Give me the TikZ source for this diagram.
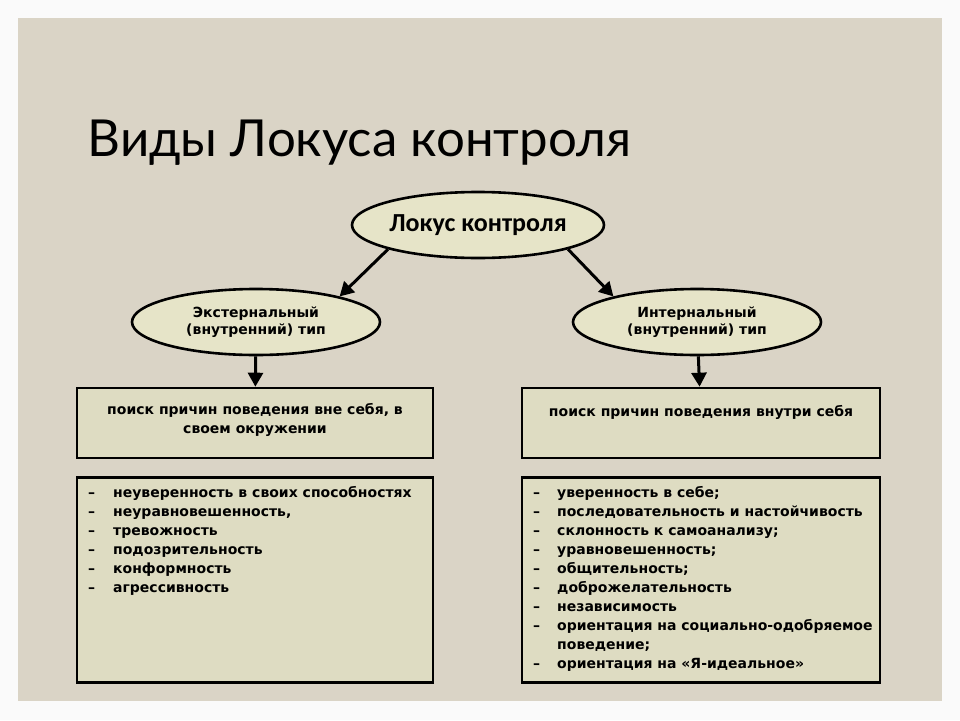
\documentclass[tikz,border=0pt]{standalone}
\usepackage{fontspec}
\setmainfont{Carlito}
\newfontfamily\titlefont{Lato}
\newfontfamily\smallfont{DejaVu Sans}
\usetikzlibrary{arrows.meta,shapes.geometric}
\definecolor{slidebg}{HTML}{DAD4C6}
\definecolor{ovalfill}{HTML}{E6E4C8}
\definecolor{boxfill}{HTML}{DEDCC2}
\newcommand*{\smalltext}{\smallfont\fontsize{14}{19}\selectfont\bfseries}
\tikzset{
  oval/.style = {ellipse, draw = black, line width = 2.6pt, fill = ovalfill,
    minimum width = 248pt, minimum height = 66pt, inner sep = 0pt, align = center},
  textbox/.style = {draw = black, line width = 2.6pt, fill = boxfill, inner sep = 0pt},
  arrowline/.style = {line width = 3pt, -{Triangle[length=14pt,width=15pt]}},
}
\begin{document}
\begin{tikzpicture}[x=1pt, y=-1pt]
  \fill[white!98!black] (0,0) rectangle (960,720);
  \fill[slidebg] (18,18) rectangle (942,701);
  \node[anchor = base west, font = \titlefont\fontsize{51}{51}\selectfont] (title)
    at (84,156) {Виды Локуса контроля};

  % ovals
  \node[oval, minimum width = 252pt] (locus) at (478,225)
    {\fontsize{26}{28}\selectfont\bfseries Локус контроля};
  \node[oval, font = \smallfont\fontsize{14}{17}\selectfont\bfseries] (ext) at (256,322)
    {Экстернальный\\(внутренний) тип};
  \node[oval, font = \smallfont\fontsize{14}{17}\selectfont\bfseries] (int) at (697,322)
    {Интернальный\\(внутренний) тип};
  \draw[arrowline] (locus.south west) -- (ext.17);
  \draw[arrowline] (locus.south east) -- (int.163);

  % boxes with the search of causes
  \node[textbox, minimum width = 356pt, minimum height = 70pt] (extcause) at (255,423) {};
  \node[textbox, minimum width = 358pt, minimum height = 70pt] (intcause) at (701,423) {};
  \node[font = \smalltext, align = center] at (255,420)
    {поиск причин поведения вне себя, в\\своем окружении};
  \node[font = \smalltext] at (701,412) {поиск причин поведения внутри себя};
  \draw[arrowline] (ext) -- (extcause);
  \draw[arrowline] (int) -- (intcause);

  % lists of traits
  \node[textbox, minimum width = 356pt, minimum height = 205pt] (extlist) at (255,580) {};
  \node[textbox, minimum width = 358pt, minimum height = 205pt] (intlist) at (701,580) {};
  \node[anchor = north west, font = \smalltext, inner sep = 0pt] at (88,484) {%
    \begin{tabular}{@{}p{25pt}@{}l@{}}
      –& неуверенность в своих способностях\\
      –& неуравновешенность,\\
      –& тревожность\\
      –& подозрительность\\
      –& конформность\\
      –& агрессивность
    \end{tabular}};
  \node[anchor = north west, font = \smalltext, inner sep = 0pt] at (533,484) {%
    \begin{tabular}{@{}p{24pt}@{}l@{}}
      –& уверенность в себе;\\
      –& последовательность и настойчивость\\
      –& склонность к самоанализу;\\
      –& уравновешенность;\\
      –& общительность;\\
      –& доброжелательность\\
      –& независимость\\
      –& ориентация на социально-одобряемое\\
        & поведение;\\
      –& ориентация на «Я-идеальное»
    \end{tabular}};
\end{tikzpicture}
\end{document}
